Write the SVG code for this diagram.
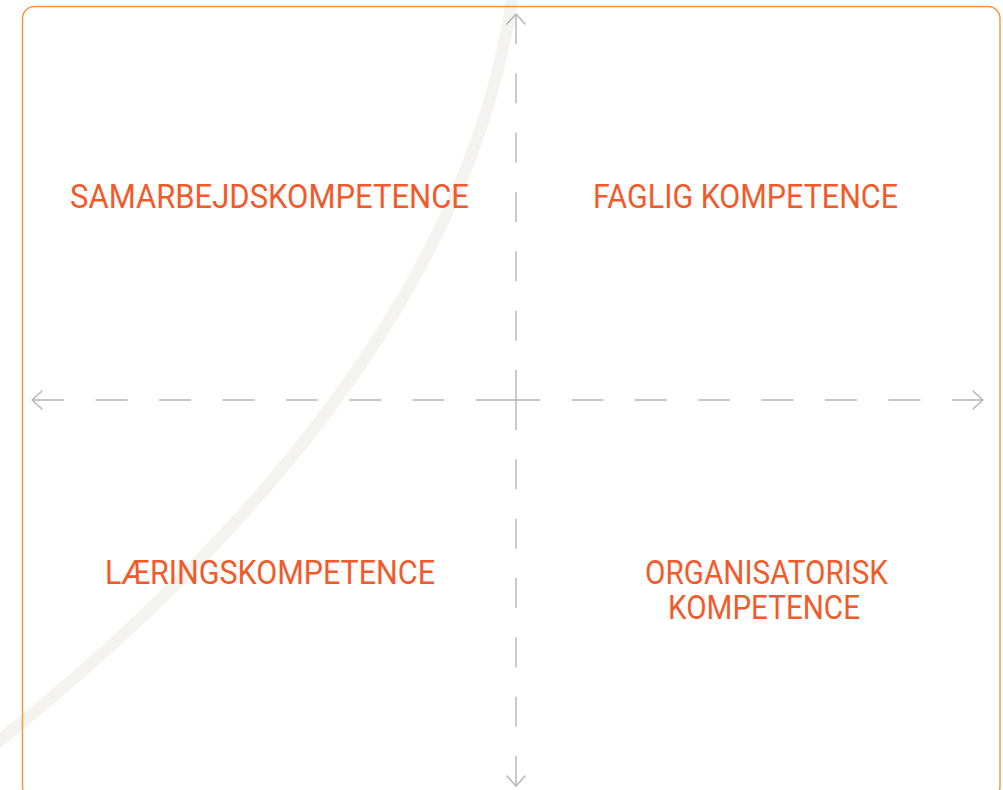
<svg xmlns="http://www.w3.org/2000/svg" width="1003" height="790" viewBox="0 0 1003 790">
<style>
.lbl{font-family:Roboto,"Liberation Sans",sans-serif;font-size:34px;fill:#f15a2b;text-anchor:middle}
.axis{fill:none;stroke:#b4b4b4;stroke-width:1.4}
.head{fill:none;stroke:#b4b4b4;stroke-width:1.4;stroke-linecap:round;stroke-linejoin:round}
</style>
<rect width="1003" height="790" fill="#ffffff"/>
<path d="M514,-14 L512,0 C474.5,250 300,500 0,740 L-40,772" fill="none" stroke="#f4f3ef" stroke-width="12"/>
<rect x="22.5" y="6.5" width="977.5" height="792" rx="12" fill="none" stroke="#f7953f" stroke-width="1.4"/>
<g id="connectors">
<line class="axis" x1="508" y1="400" x2="32" y2="400" stroke-dasharray="32 31.4"/>
<line class="axis" x1="508" y1="400" x2="983" y2="400" stroke-dasharray="32 31.4"/>
<line class="axis" x1="516" y1="400" x2="516" y2="14" stroke-dasharray="30 29.33"/>
<line class="axis" x1="516" y1="400" x2="516" y2="786" stroke-dasharray="30 29.33"/>
<polyline class="head" points="42,391 32,400 42,409"/>
<polyline class="head" points="973,391 983,400 973,409"/>
<polyline class="head" points="507,24 516,14 525,24"/>
<polyline class="head" points="507,776 516,786 525,776"/>
</g>
<g id="samarbejdskompetence"><text class="lbl" x="269.5" y="207.5" textLength="399" lengthAdjust="spacingAndGlyphs">SAMARBEJDSKOMPETENCE</text></g>
<g id="faglig-kompetence"><text class="lbl" x="745.5" y="207.5" textLength="305" lengthAdjust="spacingAndGlyphs">FAGLIG KOMPETENCE</text></g>
<g id="laeringskompetence"><text class="lbl" x="270" y="583.5" textLength="330" lengthAdjust="spacingAndGlyphs">LÆRINGSKOMPETENCE</text></g>
<g id="organisatorisk-kompetence">
<text class="lbl" x="766.5" y="583.5" textLength="243" lengthAdjust="spacingAndGlyphs">ORGANISATORISK</text>
<text class="lbl" x="764" y="618.5" textLength="192" lengthAdjust="spacingAndGlyphs">KOMPETENCE</text>
</g>
</svg>
